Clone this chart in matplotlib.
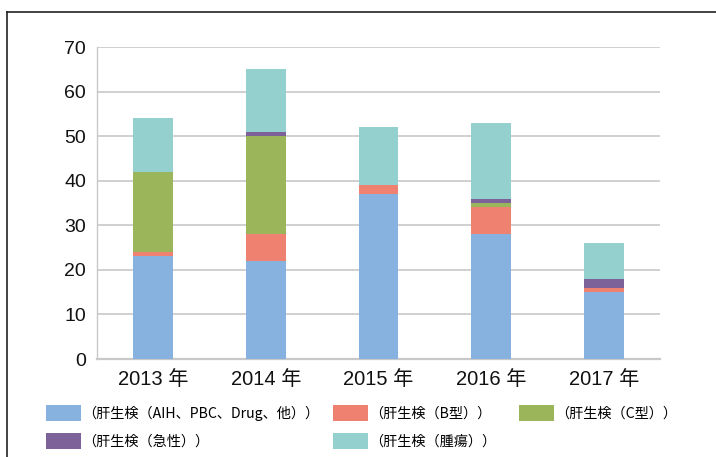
import matplotlib
matplotlib.use("Agg")
import matplotlib.pyplot as plt
import numpy as np
from matplotlib.lines import Line2D

FONT = ["Liberation Sans", "Noto Sans CJK JP", "DejaVu Sans"]
plt.rcParams["font.family"] = FONT

years = ["2013 年", "2014 年", "2015 年", "2016 年", "2017 年"]
labels = ["（肝生検（AIH、PBC、Drug、他））", "（肝生検（B型））", "（肝生検（C型））",
          "（肝生検（急性））", "（肝生検（腫瘍））"]
other = [23, 22, 37, 28, 15]
hbv = [1, 6, 2, 6, 1]
hcv = [18, 22, 0, 1, 0]
acute = [0, 1, 0, 1, 2]
tumor = [12, 14, 13, 17, 8]
colors = ["#87b2df", "#ee8170", "#9ab55a", "#7d6299", "#93d0ce"]

fig = plt.figure(figsize=(7.16, 4.57), dpi=100)
ax = fig.add_axes([97 / 716, 1 - 359 / 457, 563 / 716, 312 / 457])

x = np.arange(len(years))
bottom = np.zeros(len(years))
handles = []
for vals, c, lab in zip([other, hbv, hcv, acute, tumor], colors, labels):
    b = ax.bar(x, vals, 0.355, bottom=bottom, color=c, label=lab, zorder=3)
    handles.append(b)
    bottom += np.array(vals)

ax.set_xlim(-0.5, 4.5)
ax.set_ylim(0, 70)
ax.set_yticks(range(0, 71, 10))
ax.set_xticks(x)
ax.set_xticklabels(years, fontsize=14.5)
ax.tick_params(length=0, colors="#111111")
ax.tick_params(axis="y", pad=8, labelsize=14)
ax.tick_params(axis="x", pad=8)
ax.grid(axis="y", color="#d0d0d0", lw=1.4, zorder=0)
for s in ["top", "right"]:
    ax.spines[s].set_visible(False)
for s in ["left", "bottom"]:
    ax.spines[s].set_color("#c8c8c8")
ax.spines["bottom"].set_linewidth(1.6)
ax.spines["left"].set_linewidth(1.0)

# frame lines (top and left)
fig.add_artist(Line2D([7 / 716, 1], [1 - 12 / 457] * 2, color="#222222", lw=1.2,
                      transform=fig.transFigure))
fig.add_artist(Line2D([7 / 716] * 2, [0, 1 - 12 / 457], color="#222222", lw=1.2,
                      transform=fig.transFigure))

# legend entries placed one by one (3 on the first row, 2 on the second)
fs = 10.2
em = fs * 100 / 72
slots = [(46, 413), (333, 413), (519, 413), (46, 441), (333, 441)]
for h, lab, (px, py) in zip(handles, labels, slots):
    fig.legend([h], [lab], loc="center left",
               bbox_to_anchor=(px / 716, 1 - py / 457),
               frameon=False, prop={"family": ["Noto Sans CJK JP"], "size": fs},
               handlelength=35 / em, handleheight=20 / em, handletextpad=0.1,
               borderpad=0, borderaxespad=0)

fig.savefig("out.png", facecolor="white")
